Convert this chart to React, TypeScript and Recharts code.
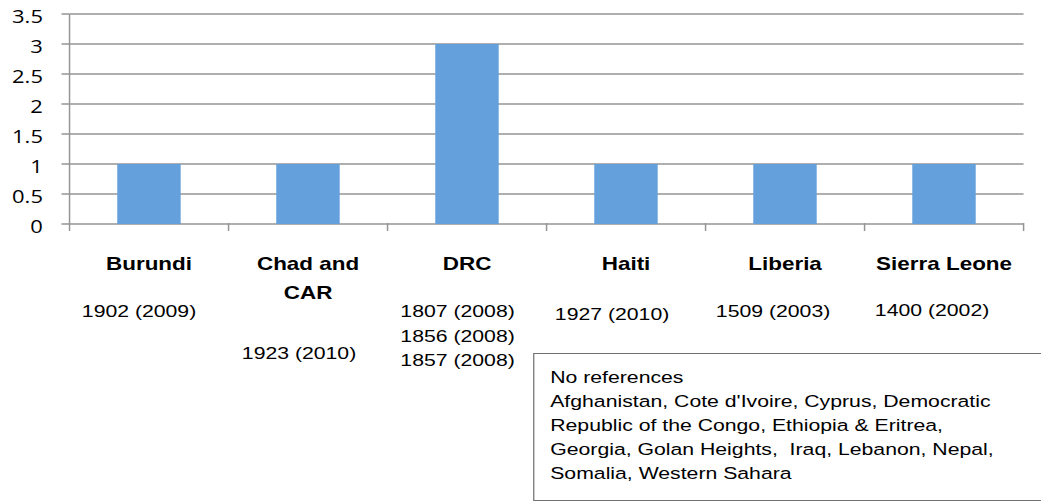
import { BarChart, Bar, XAxis, YAxis, CartesianGrid } from "recharts";

// chart data
const categories = ["Burundi", "Chad and\nCAR", "DRC", "Haiti", "Liberia", "Sierra Leone"];
const resolutionCounts = [1, 1, 3, 1, 1, 1];
const resolutionLabels = [
  ["1902 (2009)"],
  ["1923 (2010)"],
  ["1807 (2008)", "1856 (2008)", "1857 (2008)"],
  ["1927 (2010)"],
  ["1509 (2003)"],
  ["1400 (2002)"],
];
const valueTicks = [0, 0.5, 1, 1.5, 2, 2.5, 3, 3.5];
const noteLines = [
  "No references",
  "Afghanistan, Cote d'Ivoire, Cyprus, Democratic",
  "Republic of the Congo, Ethiopia & Eritrea,",
  "Georgia, Golan Heights,  Iraq, Lebanon, Nepal,",
  "Somalia, Western Sahara",
];

// layout: the original picture is stretched sideways
const STRETCH = 1.22;
const W = 853;
const H = 504;
const MARGIN = { top: 14, right: 14, bottom: 279, left: 0 };
const Y_WIDTH = 57;
const GRID = "#959595";
const BAR = "#64a0dc";
const ARIAL = "'Liberation Sans', Arial, sans-serif";
// where the resolution numbers sit under each category (dx, baseline below axis)
const noteOffsets = [
  [-10, 93],
  [-9, 135.5],
  [-9.5, 93.5],
  [-14, 96.5],
  [-12, 93],
  [-12, 92.5],
];

const data = categories.map((name, i) => ({ name, value: resolutionCounts[i] }));
const band = (W - Y_WIDTH - MARGIN.left - MARGIN.right) / categories.length;
const vStroke = 1.5 / STRETCH;

function CategoryTick(props: any) {
  const { x, y, payload, index } = props;
  const i = payload?.index ?? index;
  const lines = String(payload.value).split("\n");
  const [dx, dy] = noteOffsets[i];
  const edges = i === categories.length - 1 ? [x - band / 2, x + band / 2] : [x - band / 2];
  return (
    <g>
      {edges.map((ex, k) => (
        <line key={"t" + k} x1={ex} x2={ex} y1={y - 1} y2={y + 7} stroke={GRID} strokeWidth={vStroke} />
      ))}
      {lines.map((t, k) => (
        <text key={"n" + k} x={x} y={y + 46 + k * 29} textAnchor="middle"
          fontFamily={ARIAL} fontWeight={700} fontSize={18.4} fill="#000">
          {t}
        </text>
      ))}
      {resolutionLabels[i].map((t, k) => (
        <text key={"r" + k} x={x + dx / STRETCH} y={y + dy + k * 24.3} textAnchor="middle"
          fontFamily={ARIAL} fontSize={17.4} fill="#000">
          {t}
        </text>
      ))}
    </g>
  );
}

function ValueTick(props: any) {
  const { x, y, payload } = props;
  return (
    <text x={x - 15.2} y={y + 8.9} textAnchor="end" fontFamily="'Open Sans', sans-serif"
      fontSize={18} fill="#000">
      {payload.value}
    </text>
  );
}

export default function App() {
  return (
    <div style={{ position: "absolute", left: 0, top: 0, width: W, height: H,
      transform: `scaleX(${STRETCH})`, transformOrigin: "0 0", background: "#fff" }}>
      <BarChart width={W} height={H} data={data} barCategoryGap="30%" margin={MARGIN}>
        <CartesianGrid vertical={false} stroke={GRID} strokeWidth={1.5} />
        <XAxis dataKey="name" interval={0} height={1} tickSize={0} tickMargin={0}
          axisLine={false} tickLine={false} tick={<CategoryTick />} />
        <YAxis domain={[0, 3.5]} ticks={valueTicks} width={Y_WIDTH} tickSize={6.6} tickMargin={0}
          axisLine={{ stroke: GRID, strokeWidth: vStroke }} tickLine={{ stroke: GRID, strokeWidth: 1.5 }}
          tick={<ValueTick />} />
        <Bar dataKey="value" fill={BAR} isAnimationActive={false} />
      </BarChart>
      <div style={{ position: "absolute", left: 437, top: 353, width: 425, height: 148,
        boxSizing: "border-box", border: "1.5px solid #707070", padding: "10.5px 0 0 13px",
        fontFamily: ARIAL, fontSize: 17.4, lineHeight: "24.2px", whiteSpace: "pre", color: "#000",
        background: "#fff" }}>
        {noteLines.map((t, k) => <div key={k}>{t}</div>)}
      </div>
    </div>
  );
}
